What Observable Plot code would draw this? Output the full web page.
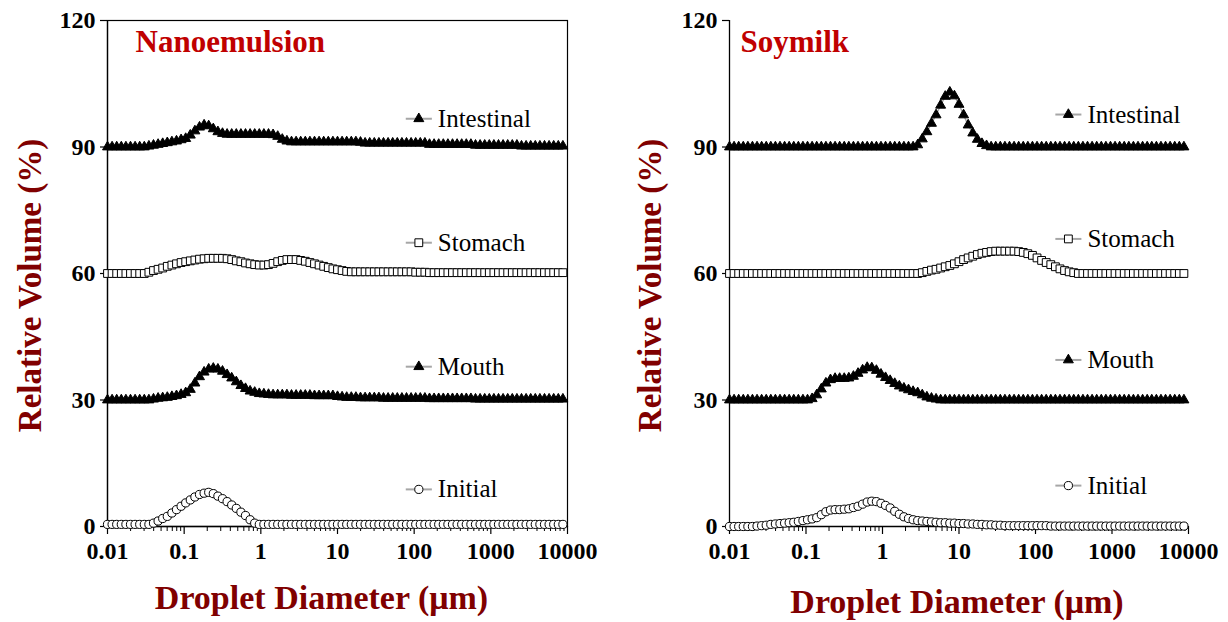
<!DOCTYPE html>
<html><head><meta charset="utf-8">
<script src="https://cdn.jsdelivr.net/npm/d3@7"></script>
<script src="https://cdn.jsdelivr.net/npm/@observablehq/plot@0.6"></script>
<style>
body{margin:0;background:#fff;}
#wrap{display:flex;width:1228px;height:622px;overflow:hidden;}
</style></head><body><div id="wrap"></div>
<script>
// Droplet diameter classes (µm)
const sizes = [
0.01,0.01148,0.01318,0.01514,0.01738,0.01995,0.02291,0.0263,0.0302,0.03467,
0.03981,0.04571,0.05248,0.06026,0.06918,0.07943,0.0912,0.1047,0.1202,0.138,
0.1585,0.182,0.2089,0.2399,0.2754,0.3162,0.3631,0.4169,0.4786,0.5495,
0.631,0.7244,0.8318,0.955,1.096,1.259,1.445,1.66,1.905,2.188,
2.512,2.884,3.311,3.802,4.365,5.012,5.754,6.607,7.586,8.71,
10,11.48,13.18,15.14,17.38,19.95,22.91,26.3,30.2,34.67,
39.81,45.71,52.48,60.26,69.18,79.43,91.2,104.7,120.2,138,
158.5,182,208.9,239.9,275.4,316.2,363.1,416.9,478.6,549.5,
631,724.4,831.8,955,1096,1259,1445,1660,1905,2188,
2512,2884,3311,3802,4365,5012,5754,6607,7586,8710];

const stages = ["Initial","Mouth","Stomach","Intestinal"];
const offsets = [0,30,60,90];

// Nanoemulsion (relative volume %, before offset)
const nanoInitial = [
0.5,0.5,0.5,0.5,0.5,0.5,0.5,0.5,0.5,0.5,
0.8,1.3,1.9,2.4,3.2,4.0,4.8,5.6,6.3,7.0,
7.6,7.9,8.1,7.8,7.2,6.6,5.9,5.1,4.3,3.4,
2.6,1.6,0.8,0.5,0.5,0.5,0.5,0.5,0.5,0.5,
0.5,0.5,0.5,0.5,0.5,0.5,0.5,0.5,0.5,0.5,
0.5,0.5,0.5,0.5,0.5,0.5,0.5,0.5,0.5,0.5,
0.5,0.5,0.5,0.5,0.5,0.5,0.5,0.5,0.5,0.5,
0.5,0.5,0.5,0.5,0.5,0.5,0.5,0.5,0.5,0.5,
0.5,0.5,0.5,0.5,0.5,0.5,0.5,0.5,0.5,0.5,
0.5,0.5,0.5,0.5,0.5,0.5,0.5,0.5,0.5,0.5];
const nanoMouth = [
0,0,0,0,0,0,0,0,0,0,
0.2,0.4,0.5,0.6,0.8,1.0,1.3,1.7,2.5,4.0,
5.5,6.6,7.3,7.5,7.3,6.8,6.0,5.2,4.3,3.4,
2.7,2.1,1.8,1.5,1.4,1.3,1.2,1.2,1.2,1.2,
1.1,1.1,1.1,1.1,1.1,1.0,1.0,1.0,1.0,1.0,
0.8,0.7,0.6,0.6,0.6,0.5,0.5,0.5,0.5,0.5,
0.4,0.4,0.4,0.4,0.4,0.4,0.4,0.4,0.4,0.4,
0.3,0.3,0.3,0.3,0.3,0.3,0.3,0.3,0.3,0.3,
0.2,0.2,0.2,0.2,0.2,0.2,0.2,0.2,0.2,0.2,
0.2,0.2,0.2,0.2,0.2,0.2,0.2,0.2,0.2,0.2];
const nanoStomach = [
0,0,0,0,0,0,0,0,0,0.3,
0.7,1.0,1.3,1.7,2.0,2.3,2.6,2.8,3.0,3.2,
3.4,3.5,3.6,3.6,3.6,3.6,3.5,3.3,3.0,2.8,
2.5,2.3,2.1,2.0,2.0,2.1,2.4,2.8,3.1,3.3,
3.3,3.3,3.1,2.9,2.6,2.3,2.0,1.7,1.4,1.1,
0.9,0.7,0.5,0.4,0.4,0.4,0.4,0.4,0.4,0.4,
0.4,0.4,0.4,0.4,0.4,0.4,0.4,0.3,0.3,0.3,
0.2,0.2,0.2,0.2,0.2,0.2,0.2,0.2,0.2,0.2,
0.2,0.2,0.2,0.2,0.2,0.2,0.2,0.2,0.2,0.2,
0.2,0.2,0.2,0.2,0.2,0.2,0.2,0.2,0.2,0.2];
const nanoIntestinal = [
0,0,0,0,0,0,0,0,0,0.2,
0.4,0.6,0.8,1.0,1.2,1.4,1.7,2.0,2.8,3.8,
4.7,5.2,5.0,4.3,3.6,3.2,3.0,3.0,3.0,3.0,
3.0,3.0,3.0,3.0,3.0,3.0,2.9,2.5,1.8,1.4,
1.2,1.2,1.2,1.2,1.2,1.2,1.2,1.2,1.2,1.2,
1.2,1.2,1.2,1.2,1.2,1.1,0.9,0.9,0.9,0.9,
0.9,0.9,0.9,0.9,0.9,0.9,0.9,0.9,0.9,0.9,
0.6,0.6,0.6,0.6,0.6,0.6,0.6,0.6,0.6,0.6,
0.4,0.4,0.4,0.4,0.4,0.4,0.4,0.4,0.4,0.4,
0.2,0.2,0.2,0.2,0.2,0.2,0.2,0.2,0.2,0.2];

// Soymilk (relative volume %, before offset)
const soyInitial = [
0,0,0,0,0,0,0.1,0.2,0.3,0.5,
0.6,0.7,0.8,0.9,1.0,1.2,1.4,1.6,1.8,2.1,
2.8,3.5,3.9,4.0,4.0,4.1,4.2,4.5,4.8,5.3,
5.8,6.0,5.9,5.5,5.0,4.4,3.6,2.9,2.3,1.9,
1.6,1.4,1.3,1.2,1.1,1.0,0.9,0.9,0.8,0.8,
0.7,0.7,0.6,0.6,0.5,0.5,0.4,0.4,0.3,0.3,
0.2,0.2,0.2,0.2,0.2,0.2,0.2,0.2,0.2,0.2,
0.1,0.1,0.1,0.1,0.1,0.1,0.1,0.1,0.1,0.1,
0.1,0.1,0.1,0.1,0.1,0.1,0.1,0.1,0.1,0.1,
0.1,0.1,0.1,0.1,0.1,0.1,0.1,0.1,0.1,0.1];
const soyMouth = [
0,0,0,0,0,0,0,0,0,0,
0,0,0,0,0,0,0,0,0.3,1.2,
2.6,4.0,4.8,5.1,5.1,5.1,5.2,5.6,6.3,7.1,
7.7,7.6,7.0,6.1,5.3,4.6,3.9,3.3,2.8,2.4,
2.0,1.7,1.2,0.7,0.4,0.2,0,0,0,0,
0,0,0,0,0,0,0,0,0,0,
0,0,0,0,0,0,0,0,0,0,
0,0,0,0,0,0,0,0,0,0,
0,0,0,0,0,0,0,0,0,0,
0,0,0,0,0,0,0,0,0,0];
const soyStomach = [
0,0,0,0,0,0,0,0,0,0,
0,0,0,0,0,0,0,0,0,0,
0,0,0,0,0,0,0,0,0,0,
0,0,0,0,0,0,0,0,0,0,
0,0,0.2,0.5,0.8,1.0,1.3,1.6,1.9,2.3,
2.8,3.3,3.7,4.1,4.5,4.8,5.0,5.2,5.3,5.3,
5.3,5.3,5.3,5.2,5.0,4.7,4.3,3.7,3.1,2.6,
2.1,1.6,1.1,0.7,0.4,0.2,0,0,0,0,
0,0,0,0,0,0,0,0,0,0,
0,0,0,0,0,0,0,0,0,0];
const soyIntestinal = [
0,0,0,0,0,0,0,0,0,0,
0,0,0,0,0,0,0,0,0,0,
0,0,0,0,0,0,0,0,0,0,
0,0,0,0,0,0,0,0,0,0,
0,0.5,1.9,3.6,5.6,7.6,9.9,12.0,13.0,12.1,
10.1,7.6,5.2,3.3,1.8,0.8,0.3,0,0,0,
0,0,0,0,0,0,0,0,0,0,
0,0,0,0,0,0,0,0,0,0,
0,0,0,0,0,0,0,0,0,0,
0,0,0,0,0,0,0,0,0,0];

const yTicks = [0,30,60,90,120];
const xTicks = [0.01,0.1,1,10,100,1000,10000];
const xTickLabels = ["0.01","0.1","1","10","100","1000","10000"];
const minorTicks = [];
xTicks.slice(0,-1).forEach(d => [2,3,4,5,6,7,8,9].forEach(m => minorTicks.push(d*m)));

const symbols = {Initial:"circle", Mouth:"triangle", Stomach:"square", Intestinal:"triangle"};
const fills = {Initial:"white", Mouth:"black", Stomach:"white", Intestinal:"black"};
const radii = {Initial:4.1, Mouth:3.7, Stomach:4.4, Intestinal:3.7};
const FONT = "'Liberation Serif','Times New Roman',serif";

function buildRows(list){
  const out = [];
  stages.forEach((s,k) => list[k].forEach((v,i) => out.push({stage:s, size:sizes[i], vol:v+offsets[k]})));
  return out;
}

function panel(cfg){
  const data = buildRows(cfg.series);
  const leg = stages.map((s,k) => ({stage:s, y:cfg.legendY[k]}));
  const lx = cfg.legendX;
  const marks = [];
  if (cfg.frame) marks.push(Plot.frame({stroke:"black", strokeWidth:1.2}));
  marks.push(
    Plot.ruleX([0.01], {stroke:"black", strokeWidth:1.3}),
    Plot.ruleY([0], {stroke:"black", strokeWidth:1.3}),
    Plot.axisY({ticks:yTicks, tickSize:7, tickPadding:5, label:null, fontSize:24, fontWeight:"bold", fontFamily:FONT, strokeWidth:1.2}),
    Plot.axisX({ticks:xTicks, tickFormat:d => xTickLabels[xTicks.indexOf(d)], tickSize:8, tickPadding:7, label:null, fontSize:24, fontWeight:"bold", fontFamily:FONT, strokeWidth:1.2}),
    Plot.axisX({ticks:minorTicks, tickFormat:() => "", tickSize:5, label:null, strokeWidth:1})
  );
  marks.push(Plot.line(data, {x:"size", y:"vol", z:"stage", stroke:"#a6a6a6", strokeWidth:1.5}));
  stages.forEach(s => {
    marks.push(Plot.dot(data.filter(d => d.stage === s), {x:"size", y:"vol", symbol:symbols[s], r:radii[s], fill:fills[s], stroke:"black", strokeWidth:1}));
  });
  // legend
  marks.push(Plot.link(leg, {x1:() => lx/1.48, x2:() => lx*1.48, y1:"y", y2:"y", stroke:"#a6a6a6", strokeWidth:2}));
  stages.forEach(s => {
    marks.push(Plot.dot(leg.filter(d => d.stage === s), {x:() => lx, y:"y", symbol:symbols[s], r:radii[s], fill:fills[s], stroke:"black", strokeWidth:1}));
  });
  marks.push(Plot.text(leg, {x:() => lx, y:"y", text:"stage", dx:19, textAnchor:"start", fontSize:25, fontWeight:"normal", fontFamily:FONT, fill:"black"}));
  // titles
  marks.push(Plot.text([cfg.title], {text:d => d, frameAnchor:"top-left", dx:cfg.titleDx, dy:22, textAnchor:"start", lineAnchor:"middle", fontSize:31, fontWeight:"bold", fontFamily:FONT, fill:"#c00000"}));
  marks.push(Plot.text(["Droplet Diameter (μm)"], {text:d => d, frameAnchor:"bottom", dx:cfg.xTitleDx, dy:cfg.xTitleDy, textAnchor:"middle", lineAnchor:"middle", fontSize:34, fontWeight:"bold", fontFamily:FONT, fill:"#800000"}));
  marks.push(Plot.text(["Relative Volume (%)"], {text:d => d, frameAnchor:"left", dx:cfg.yTitleDx, dy:12, rotate:-90, textAnchor:"middle", lineAnchor:"middle", fontSize:33, fontWeight:"bold", fontFamily:FONT, fill:"#800000"}));

  return Plot.plot({
    width: cfg.width, height: 622,
    marginLeft: cfg.marginLeft, marginRight: cfg.marginRight, marginTop: 20, marginBottom: 96,
    x: {type:"log", domain:[0.01,10000]},
    y: {domain:[0,120]},
    style: {fontFamily: FONT, fontSize:"24px", fontWeight:"bold", color:"black", background:"white", overflow:"visible"},
    marks
  });
}

const wrap = document.getElementById("wrap");
wrap.append(panel({
  title:"Nanoemulsion", titleDx:28,
  series:[nanoInitial, nanoMouth, nanoStomach, nanoIntestinal],
  width:614, marginLeft:107, marginRight:47, frame:true,
  legendX:115, legendY:[8.8, 37.9, 67.3, 96.7],
  xTitleDx:-16, xTitleDy:72, yTitleDx:-77
}));
wrap.append(panel({
  title:"Soymilk", titleDx:11,
  series:[soyInitial, soyMouth, soyStomach, soyIntestinal],
  width:614, marginLeft:115, marginRight:40, frame:false,
  legendX:269, legendY:[9.7, 39.5, 68.2, 97.7],
  xTitleDx:-2, xTitleDy:76, yTitleDx:-79
}));
</script></body></html>
